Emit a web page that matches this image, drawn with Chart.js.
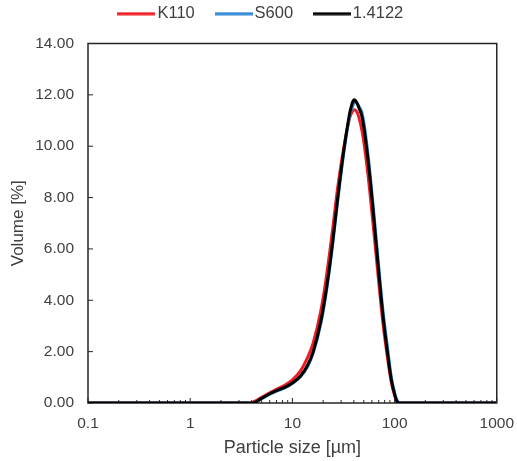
<!DOCTYPE html>
<html lang="en">
<head>
  <meta charset="UTF-8">
  <title>Particle size distribution</title>
  <script src="https://cdn.jsdelivr.net/npm/chart.js"></script>
  <style>
    body {
      margin: 0;
      background: #ffffff;
    }
    .chart-box {
      width: 517px;
      height: 461px;
    }
  </style>
</head>
<body>
  <div class="chart-box">
    <canvas id="psdChart"></canvas>
  </div>

  <script>
    // particle size classes [µm]
    const sizes = [0.1, 1, 3.8, 4.2, 5, 6, 7, 8.5, 10, 12, 14, 16, 19, 22, 25, 28, 32, 36, 38, 40, 42, 44, 48, 53, 58, 64, 70, 77, 85, 93, 100, 106, 112, 200, 1000];

    // volume [%] per sample
    const k110 = [0, 0, 0, 0.05, 0.22, 0.4, 0.53, 0.7, 0.9, 1.25, 1.75, 2.35, 3.6, 5.2, 6.9, 8.5, 10.0, 11.05, 11.3, 11.42, 11.38, 11.22, 10.6, 9.4, 8.0, 6.3, 4.7, 3.1, 1.8, 0.8, 0.3, 0.05, 0, 0, 0];
    const s600 = [0, 0, 0, 0, 0.17, 0.34, 0.46, 0.6, 0.76, 1.02, 1.4, 1.95, 3.1, 4.6, 6.3, 8.0, 9.8, 11.1, 11.45, 11.68, 11.7, 11.6, 11.3, 10.2, 8.8, 7.0, 5.3, 3.6, 2.2, 1.0, 0.4, 0.1, 0, 0, 0];
    const steel14122 = [0, 0, 0, 0, 0.18, 0.36, 0.48, 0.62, 0.78, 1.05, 1.45, 2.0, 3.2, 4.7, 6.4, 8.1, 9.9, 11.2, 11.6, 11.8, 11.75, 11.58, 11.15, 10.0, 8.6, 6.8, 5.1, 3.4, 2.0, 0.9, 0.35, 0.05, 0, 0, 0];

    const seriesNames = ['K110', 'S600', '1.4122'];
    const seriesColors = ['#f01c24', '#2f86d4', '#000000'];

    const xTicks = [0.1, 1, 10, 100, 1000];
    const yTicks = [0, 2, 4, 6, 8, 10, 12, 14];

    const textColor = '#404040';
    const fontFamily = "Arial, 'Liberation Sans', sans-serif";

    function toPoints(values) {
      return values.map((v, i) => ({ x: sizes[i], y: v }));
    }

    // legend symbol: a short thick line, drawn on a small canvas
    function legendLine(color) {
      const c = document.createElement('canvas');
      c.width = 38;
      c.height = 4;
      const g = c.getContext('2d');
      g.fillStyle = color;
      g.fillRect(0, 0.5, 38, 3);
      return c;
    }

    // frame round the plot + small tick marks pointing inwards
    const frameAndTicks = {
      id: 'frameAndTicks',
      beforeDatasetsDraw(chart) {
        const { ctx, chartArea: a, scales: { x, y } } = chart;
        ctx.save();
        ctx.strokeStyle = '#262626';
        ctx.lineWidth = 1.5;
        ctx.strokeRect(a.left, a.top, a.right - a.left, a.bottom - a.top);

        ctx.lineWidth = 1;
        ctx.beginPath();
        yTicks.forEach(v => {
          const py = y.getPixelForValue(v);
          ctx.moveTo(a.left, py);
          ctx.lineTo(a.left + 5, py);
        });
        xTicks.forEach((d, i) => {
          const px = x.getPixelForValue(d);
          ctx.moveTo(px, a.bottom);
          ctx.lineTo(px, a.bottom - 5);
          if (i === xTicks.length - 1) return;
          for (let k = 2; k <= 9; k++) {
            const mx = x.getPixelForValue(d * k);
            ctx.moveTo(mx, a.bottom);
            ctx.lineTo(mx, a.bottom - 3);
          }
        });
        ctx.stroke();
        ctx.restore();
      }
    };

    // legend placement tweaks
    const legendGap = 11.5;
    const legendShiftX = 15;
    const legendTweak = {
      id: 'legendTweak',
      beforeInit(chart) {
        const fit = chart.legend.fit;
        chart.legend.fit = function () {
          fit.bind(chart.legend)();
          this.height += legendGap;
        };
      },
      afterLayout(chart) {
        chart.legend.left += legendShiftX;
        chart.legend.right += legendShiftX;
      }
    };

    const allValues = [k110, s600, steel14122];

    new Chart(document.getElementById('psdChart'), {
      type: 'line',
      data: {
        datasets: seriesNames.map((name, i) => ({
          label: name,
          data: toPoints(allValues[i]),
          borderColor: seriesColors[i],
          backgroundColor: seriesColors[i],
          borderWidth: 3,
          pointRadius: 0,
          pointStyle: legendLine(seriesColors[i]),
          tension: 0.4,
          order: 3 - i
        }))
      },
      plugins: [frameAndTicks, legendTweak],
      options: {
        responsive: true,
        maintainAspectRatio: false,
        animation: false,
        layout: {
          padding: { top: -20.5, right: 20, bottom: 0, left: 0 }
        },
        plugins: {
          tooltip: { enabled: false },
          legend: {
            position: 'top',
            labels: {
              usePointStyle: true,
              pointStyleWidth: 25.5,
              padding: 26,
              color: textColor,
              font: { family: fontFamily, size: 16.5 },
              sort: (a, b) => a.datasetIndex - b.datasetIndex
            }
          }
        },
        scales: {
          x: {
            type: 'logarithmic',
            min: 0.1,
            max: 1000,
            afterBuildTicks: scale => {
              scale.ticks = xTicks.map(v => ({ value: v }));
            },
            afterFit: scale => { scale.height = 58; },
            grid: { display: false },
            border: { display: false },
            ticks: {
              color: textColor,
              font: { family: fontFamily, size: 15.5 },
              padding: 3,
              maxRotation: 0,
              autoSkip: false,
              callback: v => String(v)
            },
            title: {
              display: true,
              text: 'Particle size [µm]',
              color: textColor,
              font: { family: fontFamily, size: 18 },
              padding: { top: 0, bottom: 2 }
            }
          },
          y: {
            min: 0,
            max: 14,
            afterBuildTicks: scale => {
              scale.ticks = yTicks.map(v => ({ value: v }));
            },
            afterFit: scale => { scale.width = 88; },
            grid: { display: false },
            border: { display: false },
            ticks: {
              color: textColor,
              font: { family: fontFamily, size: 15.5 },
              padding: 6,
              callback: v => v.toFixed(2)
            },
            title: {
              display: true,
              text: 'Volume [%]',
              color: textColor,
              font: { family: fontFamily, size: 17 },
              padding: { top: 8, bottom: 0 }
            }
          }
        }
      }
    });
  </script>
</body>
</html>
